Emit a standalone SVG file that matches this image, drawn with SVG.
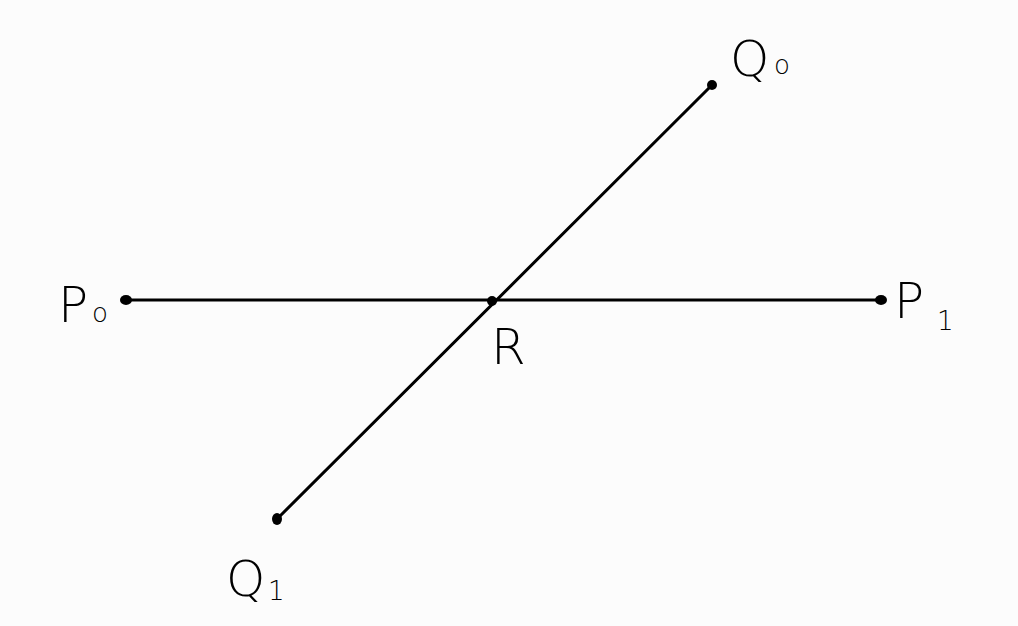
<svg xmlns="http://www.w3.org/2000/svg" width="1018" height="626" viewBox="0 0 1018 626">
<style>
.ln{stroke:#000;stroke-width:3;stroke-linecap:round;fill:none}
.pt{fill:#000}
.lb{font-family:"DejaVu Sans","Liberation Sans",sans-serif;font-weight:300;fill:#000}
.big{font-size:50px}
.sub{font-size:26px}
</style>
<rect width="1018" height="626" fill="#fcfcfc"/>
<g id="connectors">
<line class="ln" x1="126" y1="300" x2="881" y2="300"/>
<line class="ln" x1="712" y1="85" x2="277" y2="519"/>
</g>
<g id="P0">
<ellipse class="pt" cx="126" cy="300" rx="6" ry="5"/>
<text class="lb big" x="58" y="322" font-size="56">P</text>
<text class="lb sub" x="92" y="322">o</text>
</g>
<g id="P1">
<ellipse class="pt" cx="881" cy="300" rx="6" ry="5"/>
<text class="lb big" x="894" y="318" font-size="42">P</text>
<text class="lb sub" x="937" y="330">1</text>
</g>
<g id="Q0">
<ellipse class="pt" cx="712" cy="85" rx="5" ry="5"/>
<text class="lb big" x="730" y="76">Q</text>
<text class="lb sub" x="774" y="74">o</text>
</g>
<g id="Q1">
<ellipse class="pt" cx="277" cy="519" rx="5" ry="6"/>
<text class="lb big" x="226" y="596">Q</text>
<text class="lb sub" x="268" y="600">1</text>
</g>
<g id="R">
<ellipse class="pt" cx="492" cy="301" rx="5" ry="5"/>
<text class="lb big" x="491" y="364">R</text>
</g>
</svg>
